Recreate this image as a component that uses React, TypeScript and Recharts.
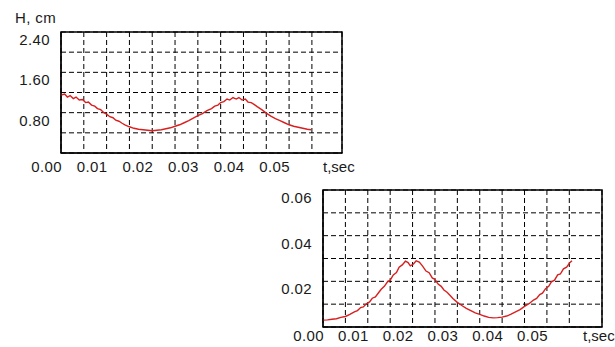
import React from "react";
import { LineChart, Line, XAxis, YAxis, CartesianGrid, ReferenceArea, Label } from "recharts";

// Top chart: H, cm vs t, sec
const topT = [0, 0.0008, 0.0014, 0.002, 0.0027, 0.0033, 0.004, 0.0047, 0.0054, 0.006, 0.0067, 0.0074, 0.008, 0.0087, 0.0094, 0.01, 0.0107, 0.0114, 0.012, 0.0127, 0.0134, 0.014, 0.015, 0.016, 0.017, 0.018, 0.019, 0.02, 0.021, 0.022, 0.023, 0.024, 0.025, 0.026, 0.027, 0.028, 0.029, 0.03, 0.031, 0.032, 0.033, 0.0337, 0.0344, 0.035, 0.0357, 0.0364, 0.037, 0.0377, 0.0384, 0.039, 0.0397, 0.0404, 0.041, 0.0417, 0.0424, 0.043, 0.044, 0.045, 0.046, 0.047, 0.048, 0.049, 0.05, 0.051, 0.052, 0.053, 0.054, 0.0548];
const topH = [1.15, 1.17, 1.11, 1.14, 1.08, 1.11, 1.05, 1.06, 1.0, 1.01, 0.95, 0.93, 0.88, 0.86, 0.8, 0.77, 0.72, 0.7, 0.65, 0.63, 0.59, 0.56, 0.52, 0.49, 0.47, 0.46, 0.45, 0.44, 0.45, 0.46, 0.48, 0.5, 0.53, 0.56, 0.6, 0.64, 0.69, 0.74, 0.78, 0.84, 0.88, 0.93, 0.95, 1.0, 1.02, 1.07, 1.05, 1.1, 1.07, 1.1, 1.05, 1.07, 1.01, 1.0, 0.96, 0.92, 0.86, 0.79, 0.73, 0.68, 0.64, 0.6, 0.56, 0.53, 0.51, 0.49, 0.47, 0.46];
const topYTicks = [0, 0.4, 0.8, 1.2, 1.6, 2.0, 2.4];
const topYLabels = [0.8, 1.6, 2.4];

// Bottom chart
const botT = [0, 0.001, 0.002, 0.003, 0.004, 0.005, 0.006, 0.007, 0.0077, 0.0084, 0.009, 0.0097, 0.0104, 0.011, 0.0117, 0.0124, 0.013, 0.0137, 0.0144, 0.015, 0.0157, 0.0164, 0.017, 0.0177, 0.0184, 0.019, 0.0195, 0.0202, 0.0208, 0.0215, 0.0222, 0.023, 0.0237, 0.0244, 0.025, 0.0257, 0.0264, 0.027, 0.0277, 0.0284, 0.029, 0.03, 0.031, 0.032, 0.033, 0.034, 0.035, 0.036, 0.037, 0.038, 0.039, 0.04, 0.041, 0.042, 0.043, 0.044, 0.045, 0.046, 0.047, 0.0477, 0.0484, 0.049, 0.0497, 0.0504, 0.051, 0.0517, 0.0524, 0.053, 0.0537, 0.0544, 0.0551, 0.0556];
const botV = [0.003, 0.0031, 0.0034, 0.0036, 0.0042, 0.0046, 0.0055, 0.0066, 0.0072, 0.0085, 0.0088, 0.0102, 0.011, 0.0126, 0.0132, 0.015, 0.0165, 0.0178, 0.0198, 0.0205, 0.0228, 0.0238, 0.0262, 0.0272, 0.0288, 0.0282, 0.0268, 0.0276, 0.029, 0.0284, 0.0268, 0.0245, 0.0238, 0.0215, 0.0208, 0.0188, 0.0178, 0.0162, 0.0152, 0.0138, 0.0125, 0.0108, 0.0094, 0.0082, 0.0072, 0.0062, 0.0055, 0.0048, 0.0042, 0.004, 0.0041, 0.0043, 0.0048, 0.0056, 0.0066, 0.0076, 0.009, 0.0102, 0.0118, 0.0125, 0.0142, 0.0148, 0.0168, 0.0178, 0.0198, 0.0205, 0.0228, 0.0232, 0.0255, 0.0262, 0.0282, 0.029];
const botYTicks = [0, 0.01, 0.02, 0.03, 0.04, 0.05, 0.06];
const botYLabels = [0.02, 0.04, 0.06];

const xTicks = [0, 0.005, 0.01, 0.015, 0.02, 0.025, 0.03, 0.035, 0.04, 0.045, 0.05, 0.055];
const xLabels = [0, 0.01, 0.02, 0.03, 0.04, 0.05];
const xUnit = "t,sec";
const yUnit = "H, cm";

const topData = topT.map((t, i) => ({ t, v: topH[i] }));
const botData = botT.map((t, i) => ({ t, v: botV[i] }));

const FONT = "'Liberation Sans', Arial, sans-serif";
const TEXT = "#1a1a1a";

const near = (a: number, list: number[]) => list.some((b) => Math.abs(a - b) < 1e-9);

const makeXTick = (dy: number) => (props: any) => {
  const { x, y, payload } = props;
  if (!near(payload.value, xLabels)) return null;
  return (
    <text x={x + 1} y={y + dy} textAnchor="end" fontFamily={FONT} fontSize={15} fill={TEXT} letterSpacing={0.4}>
      {payload.value.toFixed(2)}
    </text>
  );
};

const makeYTick = (labels: number[]) => (props: any) => {
  const { x, y, payload } = props;
  if (!near(payload.value, labels)) return null;
  return (
    <text x={x - 11} y={y + 13} textAnchor="end" fontFamily={FONT} fontSize={15} fill={TEXT} letterSpacing={0.4}>
      {payload.value.toFixed(2)}
    </text>
  );
};

const makeUnitLabel = (dy: number) => (props: any) => {
  const vb = props.viewBox || {};
  return (
    <text x={vb.x + vb.width - 19} y={vb.y + dy} fontFamily={FONT} fontSize={15} fill={TEXT}>
      {xUnit}
    </text>
  );
};

type PanelProps = {
  data: { t: number; v: number }[];
  width: number;
  height: number;
  right: number;
  xMax: number;
  yMax: number;
  yTicks: number[];
  yLabels: number[];
  xAxisHeight: number;
  labelDy: number;
};

const Panel = ({ data, width, height, right, xMax, yMax, yTicks, yLabels, xAxisHeight, labelDy }: PanelProps) => {
  const UnitLabel = makeUnitLabel(labelDy);
  return (
    <LineChart width={width} height={height} data={data} margin={{ top: 32, right, bottom: 0, left: 0 }}>
      <CartesianGrid stroke="#000" strokeDasharray="5 3" strokeWidth={1} />
      <XAxis
        dataKey="t"
        type="number"
        domain={[0, xMax]}
        ticks={xTicks}
        allowDataOverflow
        tickLine={false}
        tickSize={0}
        tickMargin={0}
        axisLine={{ stroke: "#000" }}
        tick={makeXTick(labelDy)}
        height={xAxisHeight}
        interval={0}
      >
        <Label content={<UnitLabel />} />
      </XAxis>
      <YAxis
        type="number"
        domain={[0, yMax]}
        ticks={yTicks}
        allowDataOverflow
        tickLine={false}
        tickSize={0}
        tickMargin={0}
        axisLine={{ stroke: "#000" }}
        tick={makeYTick(yLabels)}
        width={61}
        interval={0}
      />
      <ReferenceArea x1={0} x2={xMax} y1={0} y2={yMax} fill="none" stroke="#000" strokeWidth={1.5} />
      <Line type="linear" dataKey="v" stroke="#d81f1f" strokeWidth={1.4} dot={false} isAnimationActive={false} />
    </LineChart>
  );
};

export default function App() {
  return (
    <div style={{ position: "absolute", left: 0, top: 0, width: 615, height: 347, background: "#fff", overflow: "hidden" }}>
      <div style={{ position: "absolute", left: 15, top: 10, fontFamily: FONT, fontSize: 15, lineHeight: "15px", color: TEXT, letterSpacing: 0.4 }}>
        {yUnit}
      </div>
      <div style={{ position: "absolute", left: 0, top: 0 }}>
        <Panel data={topData} width={370} height={180} right={28} xMax={0.0616} yMax={2.4} yTicks={topYTicks} yLabels={topYLabels} xAxisHeight={27} labelDy={19} />
      </div>
      <div style={{ position: "absolute", left: 262, top: 158 }}>
        <Panel data={botData} width={353} height={189} right={13} xMax={0.0623} yMax={0.06} yTicks={botYTicks} yLabels={botYLabels} xAxisHeight={20} labelDy={14} />
      </div>
    </div>
  );
}
